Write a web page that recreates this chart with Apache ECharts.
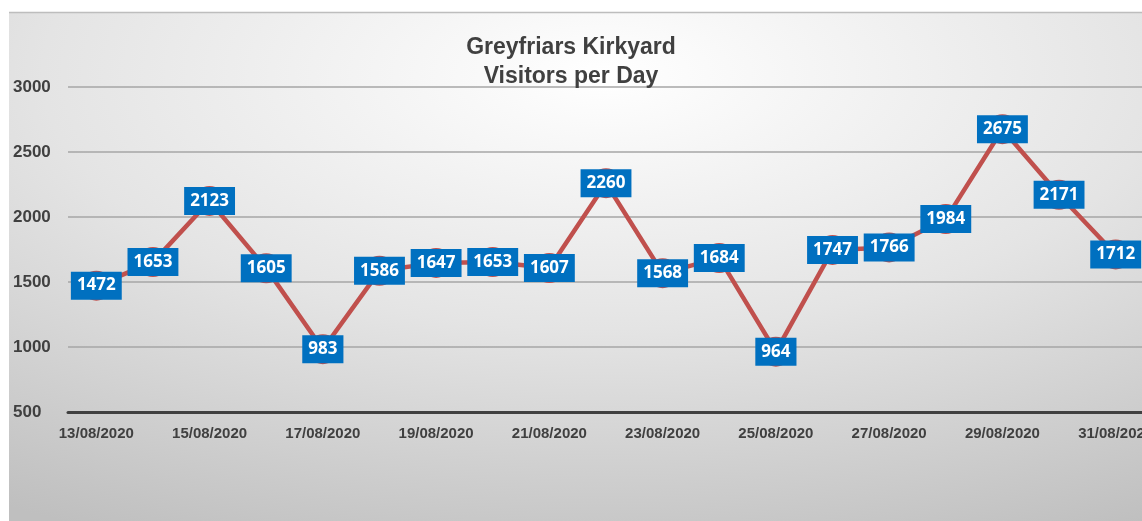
<!DOCTYPE html>
<html>
<head>
<meta charset="utf-8">
<script src="https://cdn.jsdelivr.net/npm/echarts@6/dist/echarts.min.js"></script>
<style>
  html, body { margin: 0; padding: 0; background: #fff; }
  #chart { width: 1142px; height: 521px; }
</style>
</head>
<body>
<div id="chart"></div>
<script>
// 日期
const dates = [
  '13/08/2020', '14/08/2020', '15/08/2020', '16/08/2020', '17/08/2020',
  '18/08/2020', '19/08/2020', '20/08/2020', '21/08/2020', '22/08/2020',
  '23/08/2020', '24/08/2020', '25/08/2020', '26/08/2020', '27/08/2020',
  '28/08/2020', '29/08/2020', '30/08/2020', '31/08/2020'
];
// 每日访客
const visitors = [
  1472, 1653, 2123, 1605, 983, 1586, 1647, 1653, 1607, 2260,
  1568, 1684, 964, 1747, 1766, 1984, 2675, 2171, 1712
];
// y 轴刻度
const yMin = 500;
const yMax = 3000;
const yStep = 500;

const myChart = echarts.init(document.getElementById('chart'));
const options = {
  backgroundColor: '#ffffff',
  animation: false,
  // 背景渐变
  graphic: [
    {
      type: 'rect',
      z: -10,
      silent: true,
      x: 9,
      y: 13,
      scaleX: 2.2,
      shape: { x: 0, y: 0, width: 520, height: 510 },
      style: {
        fill: {
          type: 'radial',
          x: 0.52, y: 0.12, r: 1.0,
          colorStops: [
            { offset: 0, color: '#ffffff' },
            { offset: 0.5, color: '#e4e4e4' },
            { offset: 1, color: '#bfbfbf' }
          ]
        },
        stroke: null
      }
    },
    {
      type: 'line',
      z: -9,
      silent: true,
      shape: { x1: 9, y1: 12.5, x2: 1142, y2: 12.5 },
      style: { stroke: '#bdbdbd', lineWidth: 1.5 }
    }
  ],
  title: {
    text: 'Greyfriars Kirkyard\nVisitors per Day',
    left: 'center',
    top: 28,
    textStyle: {
      fontFamily: 'Liberation Sans',
      fontSize: 23,
      fontWeight: 'bold',
      color: '#404040',
      lineHeight: 29
    }
  },
  grid: {
    left: 68,
    right: -2,
    top: 87,
    bottom: 109,
    outerBoundsMode: 'none',
    containLabel: false
  },
  xAxis: {
    type: 'category',
    data: dates,
    boundaryGap: true,
    axisLine: { lineStyle: { color: '#404040', width: 3 } },
    axisTick: { interval: 1, length: 5, lineStyle: { color: '#404040', width: 2 } },
    axisLabel: {
      interval: 1,
      margin: 14,
      hideOverlap: false,
      fontFamily: 'Liberation Sans',
      fontSize: 15,
      fontWeight: 'bold',
      color: '#404040'
    }
  },
  yAxis: {
    type: 'value',
    min: yMin,
    max: yMax,
    interval: yStep,
    axisLine: { show: false },
    axisTick: { show: false },
    axisLabel: {
      align: 'left',
      margin: 55,
      fontFamily: 'Liberation Sans',
      fontSize: 17,
      fontWeight: 'bold',
      color: '#404040',
      formatter: function (v) { return String(v); }
    },
    splitLine: { lineStyle: { color: '#a6a6a6', width: 1.5 } }
  },
  series: [{
    name: 'Visitors',
    type: 'line',
    data: visitors,
    symbol: 'circle',
    symbolSize: 30,
    lineStyle: { color: '#C0504D', width: 4.5 },
    itemStyle: { color: '#C0504D' },
    label: {
      show: true,
      position: 'inside',
      backgroundColor: '#0070C0',
      color: '#ffffff',
      fontFamily: 'Open Sans',
      fontWeight: 'bold',
      fontSize: 17,
      padding: [6, 6, 5, 6]
    }
  }]
};
myChart.setOption(options);
</script>
</body>
</html>
